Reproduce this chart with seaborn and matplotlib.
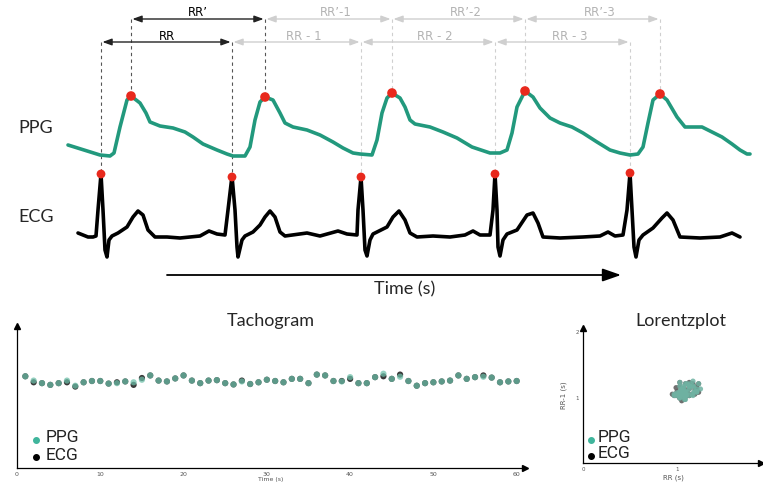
import numpy as np
import pandas as pd
import matplotlib
matplotlib.use("Agg")
import matplotlib.pyplot as plt
import seaborn as sns

# ---------------- data (pixel units for the schematic) -------------
ppg_x = [68, 100, 110, 114, 120, 127, 131, 140, 146, 150, 160, 173, 185, 193, 203, 217, 227, 233,
         245, 250, 255, 260, 265, 273, 280, 285, 293, 307, 320, 333, 343, 353, 360, 372,
         377, 382, 387, 392, 400, 405, 410, 415, 430, 443, 457, 472, 490, 500, 507,
         512, 517, 525, 533, 540, 550, 560, 572, 583, 597, 610, 620, 630, 638,
         643, 648, 653, 660, 667, 677, 685, 702, 712, 722, 732, 740, 747, 750]
ppg_y = [145, 155, 156, 153, 127, 100, 96, 103, 113, 122, 126, 128, 132, 137, 144, 150, 154, 156,
         156, 147, 120, 102, 97, 100, 113, 123, 127, 130, 135, 142, 148, 153, 154, 155,
         140, 113, 98, 93, 98, 107, 120, 124, 127, 132, 138, 147, 153, 153, 150,
         133, 107, 91, 97, 108, 118, 123, 127, 133, 142, 150, 153, 155, 154,
         147, 123, 100, 94, 100, 117, 127, 127, 132, 137, 144, 150, 154, 154]

ecg_x = [78, 83, 88, 93, 96, 98, 101, 103, 105, 107, 109, 112,
         118, 127, 133, 138, 143, 148, 155, 167, 180, 200, 209, 217, 225,
         228, 232, 235, 237, 238, 242, 245,
         253, 260, 265, 270, 275, 280, 285, 307, 320, 338, 347, 357,
         358, 361, 363, 365, 367, 370, 373,
         387, 393, 399, 405, 410, 417, 433, 450, 465, 473, 480, 490,
         493, 495, 497, 498, 500, 503, 507,
         517, 527, 533, 538, 543, 560, 583, 600, 608, 615, 623,
         627, 630, 632, 634, 636, 639, 643,
         653, 662, 667, 673, 680, 700, 720, 732, 738, 740]
ecg_y = [233, 235, 237, 237, 236, 210, 174, 210, 250, 257, 240, 236,
         233, 227, 217, 211, 215, 230, 237, 237, 238, 236, 231, 234, 235,
         210, 176, 210, 247, 257, 240, 236,
         232, 225, 217, 211, 217, 232, 236, 233, 236, 231, 234, 235,
         210, 177, 210, 250, 256, 240, 234,
         227, 217, 211, 220, 233, 237, 236, 237, 235, 231, 235, 235,
         210, 174, 210, 247, 256, 240, 234,
         230, 215, 213, 223, 237, 238, 237, 236, 232, 236, 235,
         210, 173, 210, 247, 257, 240, 235,
         228, 218, 213, 220, 237, 238, 237, 233, 236, 237]

ppg_peak_x = [131, 265, 392, 525, 660]
ppg_peak_y = [96, 97, 93, 91, 94]
ecg_peak_x = [101, 232, 361, 495, 630]
ecg_peak_y = [174, 177, 177, 174, 173]

rr_labels = ["RR", "RR - 1", "RR - 2", "RR - 3"]
rrp_labels = ["RR\u2019", "RR\u2019-1", "RR\u2019-2", "RR\u2019-3"]

# tachogram (RR interval per beat, seconds)
tacho_time = list(range(1, 61))
tacho_ppg = [1.19, 1.09, 1.03, 0.99, 1.03, 1.09, 0.97, 1.05, 1.08, 1.08,
             1.02, 1.03, 1.07, 1.05, 1.11, 1.21, 1.09, 1.07, 1.14, 1.21,
             1.09, 1.03, 1.09, 1.10, 1.03, 1.00, 1.07, 1.01, 1.05, 1.11,
             1.08, 1.05, 1.13, 1.13, 1.03, 1.23, 1.21, 1.08, 1.07, 1.17,
             1.03, 1.03, 1.17, 1.25, 1.13, 1.18, 1.08, 0.97, 1.03, 1.05,
             1.07, 1.09, 1.21, 1.13, 1.17, 1.18, 1.16, 1.05, 1.07, 1.08]
tacho_ecg = [1.19, 1.05, 1.03, 0.99, 1.03, 1.05, 0.95, 1.05, 1.08, 1.08,
             1.02, 1.05, 1.07, 0.99, 1.15, 1.21, 1.09, 1.07, 1.14, 1.21,
             1.09, 1.03, 1.09, 1.10, 1.03, 1.00, 1.09, 1.01, 1.05, 1.11,
             1.08, 1.05, 1.13, 1.13, 1.03, 1.23, 1.21, 1.08, 1.08, 1.13,
             1.03, 1.03, 1.17, 1.19, 1.13, 1.23, 1.08, 0.97, 1.03, 1.05,
             1.07, 1.09, 1.21, 1.13, 1.17, 1.21, 1.16, 1.05, 1.07, 1.08]
tacho_xticks = [0, 10, 20, 30, 40, 50, 60]

# ---------------- styling -------------------------------------------------------------------------
sns.set_theme(style="white")
plt.rcParams["font.family"] = ["DejaVu Sans"]

TEAL = "#22997d"
TEAL_DOT = "#3fb59c"
RED = "#e8291d"
DARK = "#222222"
LIGHT = "#cfcfcf"
LIGHT_TXT = "#b3b3b3"

W, H = 763, 483
fig = plt.figure(figsize=(W / 100, H / 100), dpi=100)
fig.patch.set_facecolor("white")

ax0 = fig.add_axes([0, 0, 1, 1])
ax0.set_xlim(0, W)
ax0.set_ylim(H, 0)
ax0.axis("off")

# traces
sns.lineplot(x=ppg_x, y=ppg_y, ax=ax0, color=TEAL, lw=2.6, sort=False, estimator=None)
sns.lineplot(x=ecg_x, y=ecg_y, ax=ax0, color="black", lw=2.6, sort=False, estimator=None)

# vertical dashed guides
for i, (x, y) in enumerate(zip(ecg_peak_x, ecg_peak_y)):
    c = "#555555" if i < 2 else LIGHT
    ax0.plot([x, x], [42, y - 3], ls=(0, (3, 3)), lw=0.8, color=c, zorder=1)
for i, (x, y) in enumerate(zip(ppg_peak_x, ppg_peak_y)):
    c = "#555555" if i < 2 else LIGHT
    ax0.plot([x, x], [19, y - 3], ls=(0, (3, 3)), lw=0.8, color=c, zorder=1)

# peak markers
sns.scatterplot(x=ppg_peak_x, y=ppg_peak_y, ax=ax0, color=RED, s=48, edgecolor="none", zorder=5)
sns.scatterplot(x=ecg_peak_x, y=ecg_peak_y, ax=ax0, color=RED, s=40, edgecolor="none", zorder=5)

# brackets
def bracket(x1, x2, y, label, dark, dy):
    col = DARK if dark else LIGHT
    tcol = "black" if dark else LIGHT_TXT
    ax0.annotate("", xy=(x2, y), xytext=(x1, y),
                 arrowprops=dict(arrowstyle="<|-|>,head_length=0.55,head_width=0.2",
                                 color=col, lw=1.0, shrinkA=1, shrinkB=1, mutation_scale=10))
    xc = (x1 + x2) / 2 + (0 if dark else 7)
    ax0.text(xc, y - dy, label, ha="center", va="center", fontsize=8.5, color=tcol)

for i in range(4):
    bracket(ecg_peak_x[i], ecg_peak_x[i + 1], 42, rr_labels[i], i == 0, 6)
    bracket(ppg_peak_x[i], ppg_peak_x[i + 1], 19, rrp_labels[i], i == 0, 6)

# labels
ax0.text(18, 128, "PPG", fontsize=13, family="Lato", va="center", ha="left")
ax0.text(18, 217, "ECG", fontsize=13, family="Lato", va="center", ha="left")

# time arrow
ax0.annotate("", xy=(621, 275), xytext=(167, 275),
             arrowprops=dict(arrowstyle="-|>,head_length=0.8,head_width=0.28",
                             color="black", lw=1.3, shrinkA=0, shrinkB=0, mutation_scale=14))
ax0.text(405, 289, "Time (s)", fontsize=13, family="Lato", ha="center", va="center")

# titles
ax0.text(271, 321, "Tachogram", fontsize=13, family="Lato", ha="center", va="center")
ax0.text(681, 321, "Lorentzplot", fontsize=13, family="Lato", ha="center", va="center")

# legends (bottom panels)
for (dx, tx, y1, y2) in [(36, 46, 440, 457), (591, 598, 440, 456)]:
    ax0.plot(dx, y1, "o", color=TEAL_DOT, ms=4, zorder=6)
    ax0.plot(dx, y2, "o", color="black", ms=4, zorder=6)
    ax0.text(tx, y1 - 2, "PPG", fontsize=12.5, family="Roboto", va="center", color="#222222")
    ax0.text(tx, y2 - 2, "ECG", fontsize=12.5, family="Roboto", va="center", color="#222222")

# ---------------- Tachogram ----------------------------------------------------------------------
axT = fig.add_axes([17 / W, 15 / H, 508 / W, 142 / H])
axT.set_facecolor("none")
sns.scatterplot(x=tacho_time, y=tacho_ecg, ax=axT, color="#3a3a3a", s=20, edgecolor="none", zorder=3)
sns.scatterplot(x=tacho_time, y=tacho_ppg, ax=axT, color="#6cbfa8", s=20, edgecolor="none",
                alpha=0.72, zorder=4)
axT.set_xlim(0, 61)
axT.set_ylim(-0.949, 2.363)
axT.set_xticks(tacho_xticks)
axT.set_xticklabels([str(t) for t in tacho_xticks])
axT.set_yticks([])
axT.tick_params(axis="x", length=0, labelsize=4.5, labelcolor="#555555", pad=3)
for s in ["top", "right"]:
    axT.spines[s].set_visible(False)
for s in ["left", "bottom"]:
    axT.spines[s].set_color("black")
    axT.spines[s].set_linewidth(0.9)
axT.plot(1, 0, ">", color="black", ms=4, transform=axT.transAxes, clip_on=False)
axT.plot(0, 1, "^", color="black", ms=4, transform=axT.transAxes, clip_on=False)
axT.set_xlabel("")
axT.set_ylabel("")
ax0.text(271, 477, "Time (s)", fontsize=4.5, color="#555555", ha="center", va="top")

# ---------------- Lorentz plot -------------------------------------------------------------------
axL = fig.add_axes([583 / W, 20 / H, 180 / W, 135 / H])
axL.set_facecolor("none")
sns.scatterplot(x=tacho_ecg[:-1], y=tacho_ecg[1:], ax=axL, color="#606060", s=14,
                edgecolor="none", alpha=0.9, zorder=3)
sns.scatterplot(x=tacho_ppg[:-1], y=tacho_ppg[1:], ax=axL, color="#6fb2a2", s=14,
                edgecolor="none", alpha=0.85, zorder=4)
axL.set_xlim(0, 180 / 94)
axL.set_ylim(0, 135 / 65.5)
axL.set_xticks([0, 1])
axL.set_xticklabels(["0", "1"])
axL.set_yticks([1, 2])
axL.set_yticklabels(["1", "2"])
axL.tick_params(length=0, labelsize=4, labelcolor="#555555", pad=3)
for s in ["top", "right"]:
    axL.spines[s].set_visible(False)
for s in ["left", "bottom"]:
    axL.spines[s].set_color("black")
    axL.spines[s].set_linewidth(0.9)
axL.plot(0.99, 0, ">", color="black", ms=4, transform=axL.transAxes, clip_on=False)
axL.plot(0, 1, "^", color="black", ms=4, transform=axL.transAxes, clip_on=False)
axL.set_xlabel("RR (s)", fontsize=5, color="#555555", labelpad=2)
axL.set_ylabel("RR-1 (s)", fontsize=5, color="#555555", labelpad=6)

fig.savefig("out.png", dpi=100, facecolor="white")
